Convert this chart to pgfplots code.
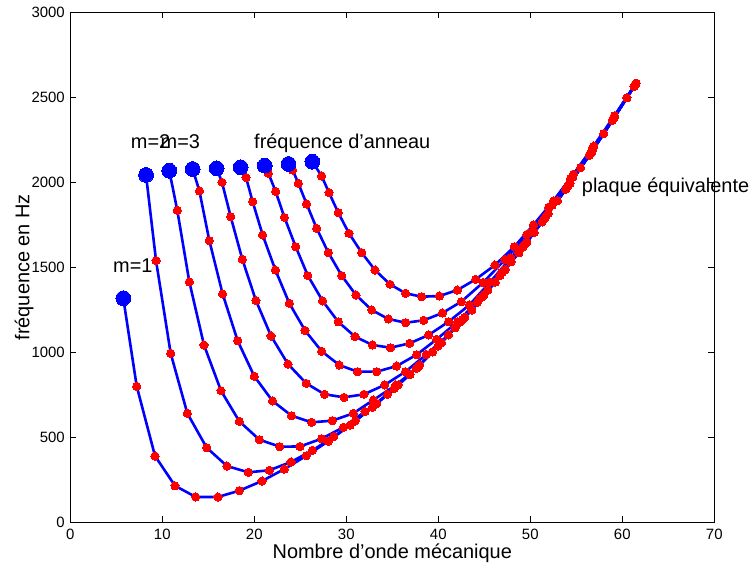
\documentclass[border=0pt]{standalone}
\usepackage{fontspec}
\setmainfont{Liberation Sans}
\usepackage{pgfplots}
\usepackage{pgfplotstable}
\pgfplotsset{compat=1.18}

\pgfplotstableread{
x y
5.76 1318
7.22 800
9.21 390
11.38 215
13.63 149
16.05 149
18.37 186
20.84 243
23.26 313
25.65 391
28.04 477
30.43 572
32.82 676
35.21 787
37.60 906
39.99 1037
42.38 1178
44.77 1326
47.16 1481
49.55 1644
51.94 1816
54.33 1995
56.72 2183
59.11 2379
61.50 2583
}\curveA
\pgfplotstableread{
x y
8.23 2043
9.32 1539
10.91 994
12.72 641
14.82 439
17.03 331
19.35 294
21.63 306
23.99 355
26.32 423
28.65 504
30.98 596
33.31 698
35.64 808
37.97 925
40.30 1054
42.63 1192
44.96 1338
47.29 1489
49.62 1649
51.95 1816
54.28 1991
56.61 2175
58.94 2366
61.27 2563
}\curveB
\pgfplotstableread{
x y
10.76 2068
11.63 1835
12.94 1414
14.53 1043
16.38 774
18.37 594
20.55 486
22.76 445
24.97 446
27.32 492
29.68 559
32.03 651
34.48 752
36.92 869
39.37 1002
41.82 1144
44.26 1294
46.71 1451
49.16 1617
51.60 1791
54.05 1974
56.50 2166
58.95 2367
61.40 2575
}\curveC
\pgfplotstableread{
x y
13.30 2078
14.03 1949
15.11 1657
16.56 1343
18.19 1068
20.00 859
21.98 714
24.05 627
26.24 588
28.48 598
30.76 641
32.93 719
35.40 808
37.83 915
40.35 1057
42.87 1207
45.39 1365
47.91 1532
50.43 1706
52.95 1891
55.47 2085
57.99 2287
60.50 2497
}\curveD
\pgfplotstableread{
x y
15.91 2082
16.49 2000
17.43 1798
18.70 1547
20.18 1304
21.82 1096
23.66 931
25.65 817
27.64 753
29.75 735
31.92 753
34.17 808
36.43 886
38.70 987
41.10 1102
43.65 1249
46.20 1413
48.75 1585
51.30 1767
53.85 1959
56.40 2159
58.95 2367
61.50 2583
}\curveE
\pgfplotstableread{
x y
18.52 2088
19.10 2029
19.82 1886
20.91 1690
22.29 1484
23.81 1288
25.51 1129
27.32 1006
29.24 925
31.22 886
33.30 886
35.47 919
37.65 986
39.82 1076
42.11 1180
44.51 1315
46.91 1468
49.31 1631
51.71 1801
54.11 1981
56.51 2168
58.91 2363
61.31 2566
}\curveF
\pgfplotstableread{
x y
21.13 2098
21.53 2053
22.32 1946
23.28 1793
24.50 1621
25.82 1451
27.43 1302
29.13 1179
30.95 1092
32.85 1043
34.80 1027
36.90 1053
38.95 1102
41.12 1180
43.37 1278
45.62 1412
47.87 1555
50.12 1707
52.37 1865
54.62 2032
56.87 2205
59.12 2385
61.37 2572
}\curveG
\pgfplotstableread{
x y
23.72 2108
24.17 2072
24.79 1994
25.69 1872
26.78 1729
28.05 1586
29.50 1451
31.05 1337
32.76 1249
34.57 1196
36.45 1174
38.41 1188
40.44 1231
42.50 1298
44.88 1411
47.25 1545
49.63 1694
52.00 1854
54.38 2024
56.75 2202
59.13 2389
61.50 2583
}\curveH
\pgfplotstableread{
x y
26.31 2121
27.32 2037
28.12 1939
29.13 1821
30.29 1700
31.67 1586
33.12 1484
34.75 1400
36.45 1347
38.19 1327
40.11 1331
42.07 1366
44.06 1429
46.16 1513
48.26 1621
50.33 1749
52.50 1890
54.70 2048
56.90 2213
59.15 2391
61.40 2575
}\curveI

\begin{document}
\begin{tikzpicture}
\useasboundingbox (-70.3bp,-46.7bp) rectangle (680.7bp,522.3bp);
\begin{axis}[
  at={(0,0)}, anchor=south west,
  scale only axis, width=644bp, height=510bp,
  xmin=0, xmax=70, ymin=0, ymax=3000,
  xtick={0,10,...,70}, ytick={0,500,...,3000},
  tick align=inside, major tick length=6bp,
  axis line style={line width=0.8bp},
  tick style={black, line width=0.8bp},
  /pgf/number format/assume math mode=true,
  /pgf/number format/1000 sep={},
  scaled y ticks=false,
  ticklabel style={font=\fontsize{15}{15}\selectfont},
  x tick label style={yshift=-3bp},
  y tick label style={xshift=-2bp},
  xlabel={Nombre d’onde mécanique},
  label style={font=\fontsize{20}{20}\selectfont},
  xlabel style={at={(axis description cs:0.5,0)}, anchor=base, yshift=-36bp},
  clip=false,
]
\pgfplotsset{cline/.style={blue, line width=2.6bp, line join=round, no marks},
  rdot/.style={only marks, mark=*, mark size=4.1bp, red, mark options={fill=red, draw=red, line width=0pt}}}
\addplot[cline] table {\curveA};
\addplot[cline] table {\curveB};
\addplot[cline] table {\curveC};
\addplot[cline] table {\curveD};
\addplot[cline] table {\curveE};
\addplot[cline] table {\curveF};
\addplot[cline] table {\curveG};
\addplot[cline] table {\curveH};
\addplot[cline] table {\curveI};
\addplot[rdot] table {\curveA};
\addplot[rdot] table {\curveB};
\addplot[rdot] table {\curveC};
\addplot[rdot] table {\curveD};
\addplot[rdot] table {\curveE};
\addplot[rdot] table {\curveF};
\addplot[rdot] table {\curveG};
\addplot[rdot] table {\curveH};
\addplot[rdot] table {\curveI};
\addplot[only marks, mark=*, mark size=7.4bp, blue, mark options={fill=blue, draw=blue, line width=0pt}] coordinates {
(5.76,1318) (8.23,2043) (10.76,2068) (13.30,2078) (15.91,2082) (18.52,2088) (21.13,2098) (23.72,2108) (26.31,2121)};
\node[anchor=base west, font=\fontsize{20}{20}\selectfont, inner sep=0pt] at (axis cs:4.64,1472) {m=1};
\node[anchor=base west, font=\fontsize{20}{20}\selectfont, inner sep=0pt] at (axis cs:6.57,2200) {m=2};
\node[anchor=base west, font=\fontsize{20}{20}\selectfont, inner sep=0pt] at (axis cs:9.80,2200) {m=3};
\node[anchor=base west, font=\fontsize{20}{20}\selectfont, inner sep=0pt] at (axis cs:19.97,2200) {fréquence d’anneau};
\node[anchor=base west, font=\fontsize{20}{20}\selectfont, inner sep=0pt] at (axis cs:55.59,1940) {plaque équivalente};
\node[rotate=90, anchor=base, font=\fontsize{20}{20}\selectfont, inner sep=0pt] at ([xshift=-41bp]rel axis cs:0,0.5) {fréquence en Hz};
\end{axis}
\end{tikzpicture}
\end{document}
